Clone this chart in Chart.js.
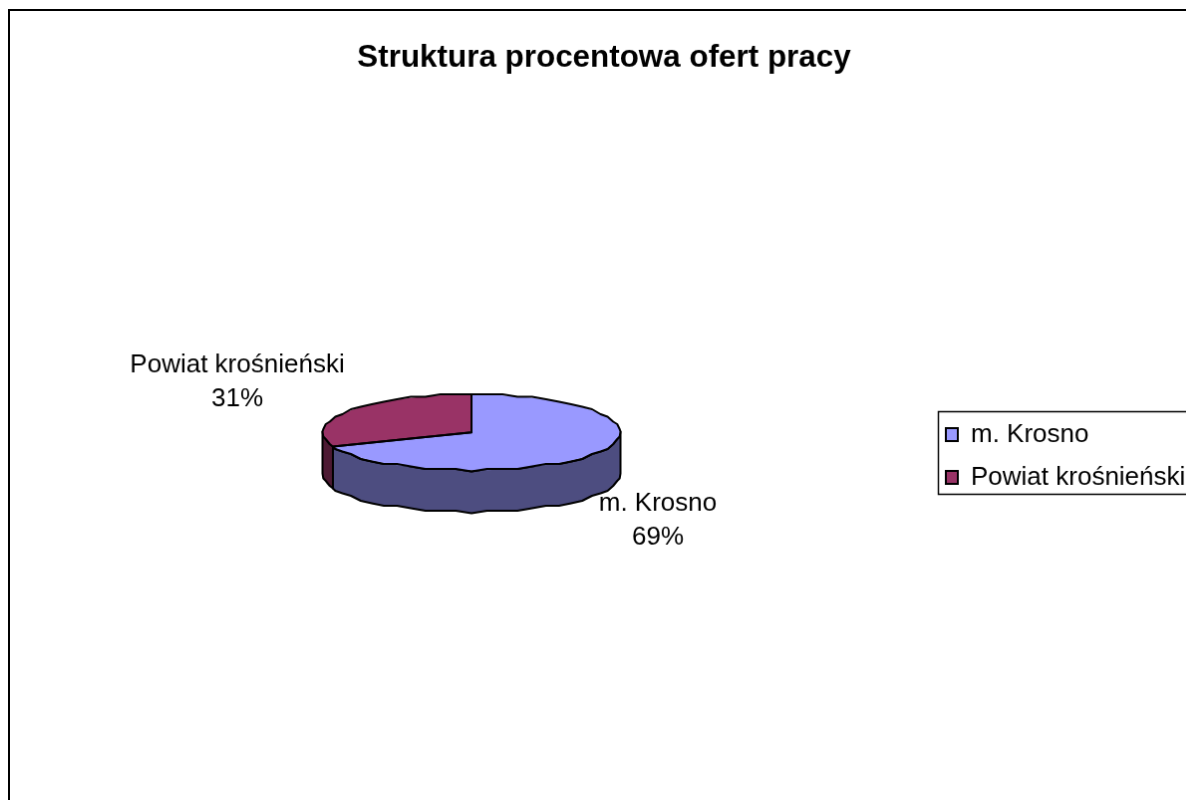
<!DOCTYPE html>
<html lang="pl">
<head>
<meta charset="utf-8">
<title>Struktura procentowa ofert pracy</title>
<script src="https://cdn.jsdelivr.net/npm/chart.js@4"></script>
<style>
  html, body { margin: 0; height: 100%; overflow: hidden; background: #fff; }
  #offers { position: absolute; left: 8px; top: 9px; border: 2px solid #000; }
</style>
</head>
<body>
<canvas id="offers" width="1192" height="882"></canvas>
<script>
// dane wykresu
const categories = ['m. Krosno', 'Powiat krośnieński'];
const shares = [69, 31];
const topColors = ['#9999FF', '#993366'];
const sideColors = ['#4D4D80', '#4D1A33'];
const chartTitle = 'Struktura procentowa ofert pracy';

const FONT = '"Liberation Sans", Arial, sans-serif';
const TILT = 38 / 149.5;   // spłaszczenie koła do elipsy
const DEPTH = 42;          // wysokość walca
const FACET = Math.PI / 30; // krawędź jest łamana, jak w oryginale
const SNAP = 2.5;          // zgrubne zaokrąglenie daje te same ząbki
const labelSpots = [[650, 512], [228, 373]]; // środek dwuwierszowego opisu

// punkty łuku na elipsie, co FACET, plus oba końce
const arcPoints = (arc, from, to, dy) => {
  const pts = [];
  const push = (a) => pts.push([
    arc.x + Math.cos(a) * arc.outerRadius,
    Math.round((arc.y + Math.sin(a) * arc.outerRadius * TILT) / SNAP) * SNAP + dy
  ]);
  push(from);
  for (let a = Math.ceil(from / FACET + 1e-6) * FACET; a < to - 1e-6; a += FACET) push(a);
  push(to);
  return pts;
};

const tracePoints = (ctx, pts) => {
  pts.forEach((p) => ctx.lineTo(p[0], p[1]));
};

const pie3d = {
  id: 'pie3d',
  beforeDatasetsDraw(chart) {
    const ctx = chart.ctx;
    const arcs = chart.getDatasetMeta(0).data;
    ctx.save();
    ctx.lineWidth = 2;
    ctx.lineJoin = 'round';
    ctx.strokeStyle = '#000';
    // ściana boczna, tylko dolna połowa elipsy
    arcs.forEach((arc, i) => {
      const from = Math.max(arc.startAngle, 0);
      const to = Math.min(arc.endAngle, Math.PI);
      if (to <= from) return;
      ctx.beginPath();
      tracePoints(ctx, arcPoints(arc, from, to, 0).concat(arcPoints(arc, from, to, DEPTH).reverse()));
      ctx.closePath();
      ctx.fillStyle = sideColors[i];
      ctx.fill();
      ctx.stroke();
    });
    ctx.restore();
    // wierzch rysuje sam Chart.js, w spłaszczonym układzie
    const cy = arcs[0].y;
    ctx.save();
    ctx.translate(0, cy);
    ctx.scale(1, TILT);
    ctx.translate(0, -cy);
  },
  afterDatasetsDraw(chart) {
    const ctx = chart.ctx;
    ctx.restore();
    ctx.save();
    ctx.lineWidth = 2;
    ctx.lineJoin = 'round';
    ctx.strokeStyle = '#000';
    chart.getDatasetMeta(0).data.forEach((arc) => {
      ctx.beginPath();
      ctx.moveTo(arc.x, arc.y);
      tracePoints(ctx, arcPoints(arc, arc.startAngle, arc.endAngle, 0));
      ctx.closePath();
      ctx.stroke();
    });
    ctx.restore();
  },
  afterDraw(chart) {
    // opisy wycinków
    const ctx = chart.ctx;
    ctx.save();
    ctx.fillStyle = '#000';
    ctx.font = '26px ' + FONT;
    ctx.textAlign = 'center';
    ctx.textBaseline = 'middle';
    categories.forEach((name, i) => {
      ctx.fillText(name, labelSpots[i][0], labelSpots[i][1] - 17);
      ctx.fillText(shares[i] + '%', labelSpots[i][0], labelSpots[i][1] + 17);
    });
    ctx.restore();
  }
};

// legenda ma ramkę i siedzi na stałym miejscu
const legendFrame = {
  id: 'legendFrame',
  afterLayout(chart) {
    const lg = chart.legend;
    const w = lg.width, h = lg.height;
    lg.left = 922;
    lg.right = lg.left + w;
    lg.top = 395.5;
    lg.bottom = lg.top + h;
  },
  beforeDraw(chart) {
    const ctx = chart.ctx;
    ctx.save();
    ctx.strokeStyle = '#000';
    ctx.lineWidth = 1.5;
    ctx.strokeRect(931.5, 402.5, 300, 83);
    ctx.restore();
  }
};

new Chart(document.getElementById('offers'), {
  type: 'pie',
  data: {
    labels: categories,
    datasets: [{
      data: shares,
      backgroundColor: topColors,
      borderWidth: 0,
      radius: 149.5
    }]
  },
  options: {
    responsive: false,
    animation: false,
    events: [],
    layout: { padding: { bottom: 112 } },
    plugins: {
      tooltip: { enabled: false },
      title: {
        display: true,
        text: chartTitle,
        color: '#000',
        font: { family: FONT, size: 31.4, weight: 'bold' },
        padding: { top: 29, bottom: 10 }
      },
      legend: {
        position: 'right',
        align: 'start',
        maxWidth: 266,
        labels: {
          font: { family: FONT, size: 26 },
          boxWidth: 12,
          boxHeight: 13,
          padding: 17,
          generateLabels: () => categories.map((text, i) => ({
            text,
            index: i,
            fillStyle: topColors[i],
            strokeStyle: '#000',
            lineWidth: 2,
            fontColor: '#000',
            hidden: false
          }))
        }
      }
    }
  },
  plugins: [legendFrame, pie3d]
});
</script>
</body>
</html>
